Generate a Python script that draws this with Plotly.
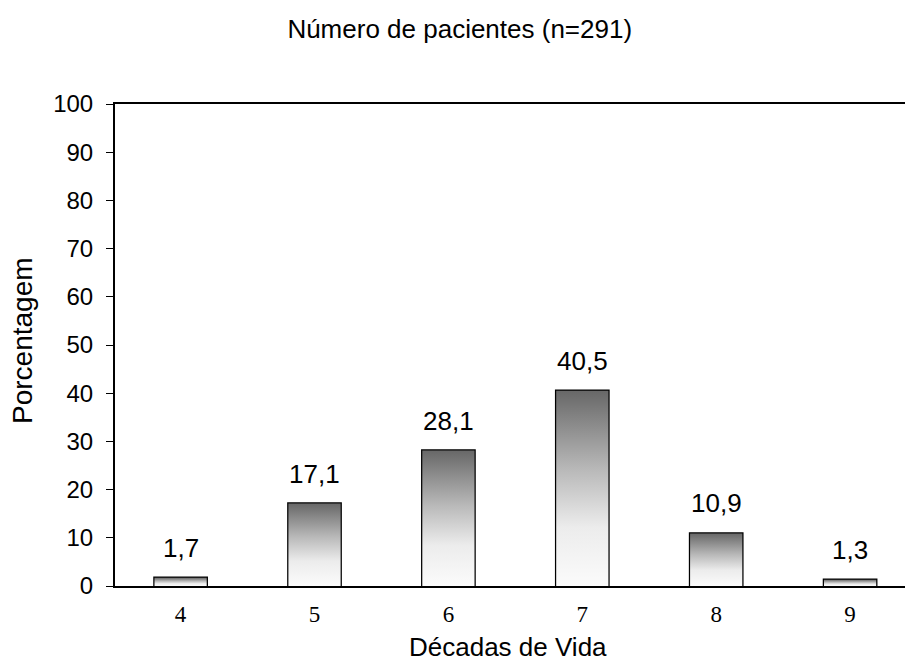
import plotly.graph_objects as go

decades = ["4", "5", "6", "7", "8", "9"]
percentages = [1.7, 17.1, 28.1, 40.5, 10.9, 1.3]
y_ticks = [0, 10, 20, 30, 40, 50, 60, 70, 80, 90, 100]

title_text = "Número de pacientes (n=291)"
x_title = "Décadas de Vida"
y_title = "Porcentagem"

SANS = "Liberation Sans, Arial, sans-serif"
SERIF = "Liberation Serif, Times New Roman, serif"
BAR_W = 0.39

fig = go.Figure()

# gradient fills
positions = list(range(len(decades)))
for i, v in zip(positions, percentages):
    x0, x1 = i - BAR_W / 2, i + BAR_W / 2
    fig.add_trace(go.Scatter(
        x=[x0, x1, x1, x0, x0], y=[0, 0, v, v, 0],
        mode="lines", line=dict(width=0), fill="toself",
        fillgradient=dict(type="vertical", start=0, stop=v,
                          colorscale=[[0, "#fbfbfb"], [0.3, "#ececec"],
                                      [0.6, "#b8b8b8"], [1, "#686868"]]),
        hoverinfo="skip", showlegend=False,
    ))

# outlines
fig.add_trace(go.Bar(
    x=positions, y=percentages, width=BAR_W,
    marker=dict(color="rgba(0,0,0,0)", line=dict(color="black", width=2.5)),
    showlegend=False,
))

for i, v in zip(positions, percentages):
    fig.add_annotation(x=i, y=v, text=f"{v:.1f}".replace(".", ","),
                       showarrow=False, yanchor="bottom", yshift=13,
                       font=dict(family=SANS, size=26, color="black"))

# axis titles
fig.add_annotation(text=x_title, xref="paper", yref="paper", x=0.497, y=0,
                   xanchor="center", yanchor="middle", yshift=-61, showarrow=False,
                   font=dict(family=SANS, size=26, color="black"))
fig.add_annotation(text=y_title, xref="paper", yref="paper", x=0, y=0.5,
                   xanchor="center", yanchor="middle", xshift=-93, yshift=4,
                   textangle=-90, showarrow=False,
                   font=dict(family=SANS, size=28, color="black"))

fig.update_layout(
    width=905, height=663,
    margin=dict(l=115, r=0, t=104, b=77),
    paper_bgcolor="white", plot_bgcolor="white",
    title=dict(text=title_text, x=0.508, xanchor="center", y=0.956, yanchor="middle",
               font=dict(family=SANS, size=26, color="black")),
    xaxis=dict(range=[-0.49, 5.41], tickvals=positions, ticktext=decades,
               showline=True, linecolor="black", linewidth=2, mirror=True,
               showgrid=False, zeroline=False, ticks="", ticklabelstandoff=6,
               automargin=False,
               tickfont=dict(family=SERIF, size=23, color="black")),
    yaxis=dict(range=[0, 100], tickvals=y_ticks,
               showline=True, linecolor="black", linewidth=2,
               showgrid=False, zeroline=False, ticks="outside", ticklen=7,
               tickcolor="black", tickwidth=1, ticklabelstandoff=8,
               automargin=False,
               tickfont=dict(family=SANS, size=24, color="black")),
)

fig.write_html("out.html", config={"displayModeBar": False},
               post_script="document.body.style.margin='0';")
